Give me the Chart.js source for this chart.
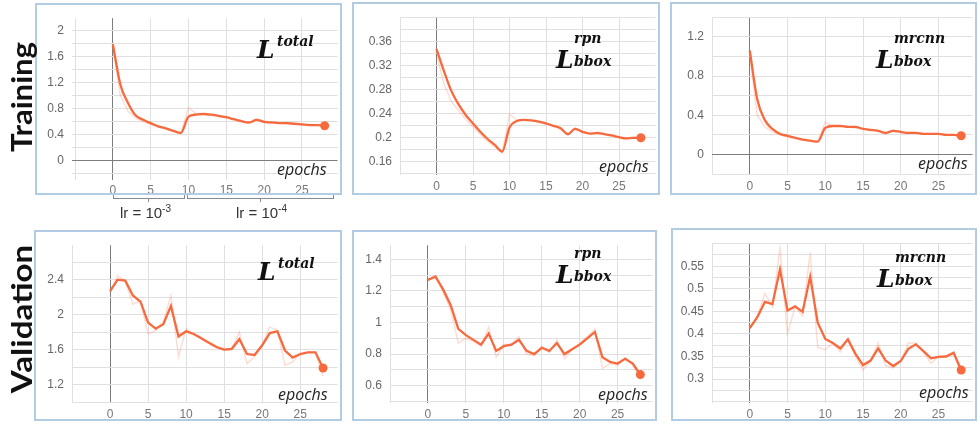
<!DOCTYPE html>
<html>
<head>
<meta charset="utf-8">
<script src="https://cdn.jsdelivr.net/npm/chart.js@4.4.1/dist/chart.umd.min.js"></script>
<style>
  body { margin: 0; width: 980px; height: 426px; position: relative; background: #fff; overflow: hidden; font-family: 'Liberation Sans', Arial, sans-serif; }
  canvas { position: absolute; }
  .box { position: absolute; border: 2px solid #b1cce3; box-sizing: border-box; pointer-events: none; }
  .row { position: absolute; font-family: Lato, 'Liberation Sans', sans-serif; font-weight: 700; font-size: 28px; color: #111; white-space: nowrap; line-height: 1; }
  .ep { position: absolute; font-family: 'Open Sans', sans-serif; font-style: italic; font-size: 16px; color: #222; line-height: 16px; }
  .m { position: absolute; font-family: 'DejaVu Serif', serif; font-weight: 700; font-style: italic; color: #111; line-height: 1; white-space: nowrap; }
  .mL { font-size: 25px; }
  .ms { font-size: 14px; }
  .br { position: absolute; border: 1px solid #8a8a8a; border-top: none; height: 3px; }
  .tk { position: absolute; width: 1px; height: 3px; background: #8a8a8a; }
  .lr { position: absolute; font-size: 15px; color: #333; white-space: nowrap; }
  .lr sup { font-size: 10px; }
</style>
</head>
<body>
<script>
// epochs on x
const epochs = [0,1,2,3,4,5,6,7,8,9,10,11,12,13,14,15,16,17,18,19,20,21,22,23,24,25,26,27,28];
const xTicks = [0, 5, 10, 15, 20, 25];

// training losses (smoothed + faint raw)
const trainTotal    = [1.79,1.17,0.89,0.70,0.63,0.58,0.53,0.50,0.46,0.43,0.68,0.71,0.72,0.71,0.69,0.67,0.64,0.61,0.59,0.63,0.60,0.59,0.58,0.58,0.57,0.56,0.55,0.55,0.54];
const trainTotalRaw = [1.75,1.00,0.76,0.66,0.60,0.56,0.52,0.49,0.45,0.42,0.82,0.72,0.72,0.70,0.68,0.66,0.63,0.60,0.57,0.64,0.59,0.58,0.58,0.57,0.57,0.56,0.55,0.55,0.54];
const trainRpn      = [0.347,0.311,0.278,0.255,0.237,0.223,0.209,0.197,0.187,0.176,0.216,0.227,0.229,0.228,0.226,0.223,0.219,0.215,0.205,0.214,0.209,0.206,0.207,0.205,0.203,0.200,0.198,0.199,0.199];
const trainRpnRaw   = [0.340,0.290,0.260,0.245,0.230,0.217,0.205,0.193,0.184,0.174,0.238,0.229,0.229,0.228,0.225,0.222,0.218,0.214,0.203,0.216,0.208,0.206,0.207,0.205,0.202,0.200,0.198,0.200,0.199];
const trainMrcnn    = [1.06,0.56,0.35,0.26,0.21,0.19,0.17,0.15,0.14,0.13,0.27,0.29,0.29,0.28,0.28,0.26,0.25,0.24,0.22,0.24,0.23,0.22,0.22,0.21,0.21,0.21,0.20,0.20,0.19];
const trainMrcnnRaw = [1.00,0.40,0.28,0.23,0.20,0.18,0.16,0.15,0.14,0.13,0.33,0.29,0.29,0.28,0.27,0.26,0.25,0.24,0.21,0.25,0.22,0.22,0.22,0.21,0.21,0.21,0.20,0.20,0.19];

// validation losses
const valTotal    = [2.27,2.40,2.39,2.22,2.15,1.91,1.84,1.89,2.10,1.75,1.81,1.78,1.73,1.68,1.63,1.60,1.61,1.72,1.55,1.54,1.65,1.79,1.81,1.59,1.51,1.55,1.57,1.57,1.39];
const valTotalRaw = [2.25,2.45,2.38,2.12,2.16,1.78,1.82,1.92,2.22,1.52,1.84,1.78,1.72,1.67,1.62,1.59,1.60,1.80,1.44,1.52,1.66,1.86,1.82,1.42,1.46,1.55,1.57,1.57,1.30];
const valRpn      = [1.27,1.29,1.21,1.11,0.96,0.92,0.89,0.86,0.93,0.82,0.85,0.86,0.89,0.82,0.80,0.84,0.82,0.87,0.80,0.83,0.86,0.90,0.94,0.78,0.75,0.74,0.77,0.74,0.67];
const valRpnRaw   = [1.27,1.30,1.19,1.08,0.87,0.90,0.88,0.85,0.97,0.78,0.86,0.86,0.91,0.80,0.79,0.85,0.81,0.89,0.77,0.83,0.87,0.91,0.96,0.71,0.74,0.73,0.78,0.73,0.64];
const valMrcnn    = [0.413,0.437,0.471,0.466,0.543,0.452,0.461,0.449,0.527,0.425,0.389,0.380,0.368,0.388,0.356,0.331,0.341,0.368,0.341,0.329,0.340,0.367,0.377,0.362,0.346,0.349,0.350,0.358,0.320];
const valMrcnnRaw = [0.410,0.440,0.490,0.460,0.590,0.400,0.460,0.440,0.580,0.370,0.365,0.380,0.360,0.390,0.350,0.320,0.340,0.380,0.330,0.325,0.340,0.380,0.380,0.360,0.335,0.350,0.350,0.360,0.310];

// y tick labels per panel
const tlLabels = [0, 0.4, 0.8, 1.2, 1.6, 2];
const tmLabels = [0.16, 0.2, 0.24, 0.28, 0.32, 0.36];
const trLabels = [0, 0.4, 0.8, 1.2];
const blLabels = [1.2, 1.6, 2, 2.4];
const bmLabels = [0.6, 0.8, 1, 1.2, 1.4];
const brLabels = [0.3, 0.35, 0.4, 0.45, 0.5, 0.55];

const lineColor = '#f86a3e';
const rawColor = 'rgba(248,106,62,0.22)';

const panels = [
  { box: [35, 3, 307, 192],  plot: [72, 5, 339, 180],    x: [-5.4, 29.7], y: [-0.29, 2.19],  grid: 0.2,   labels: tlLabels, data: trainTotal, raw: trainTotalRaw, smooth: true },
  { box: [352, 2, 308, 193], plot: [400, 4, 657, 175],   x: [-5, 30],     y: [0.137, 0.40],  grid: 0.02,  labels: tmLabels, data: trainRpn,   raw: trainRpnRaw,   smooth: true },
  { box: [670, 2, 307, 193], plot: [712, 4, 975, 175],   x: [-5, 29.5],   y: [-0.21, 1.40],  grid: 0.2,   labels: trLabels, data: trainMrcnn, raw: trainMrcnnRaw, smooth: true },
  { box: [34, 230, 308, 191],  plot: [72, 232, 339, 403],  x: [-5, 29.9],  y: [0.99, 2.795],  grid: 0.2,   labels: blLabels, data: valTotal, raw: valTotalRaw },
  { box: [352, 230, 305, 191], plot: [390, 232, 655, 403], x: [-5, 29.6],  y: [0.49, 1.49],   grid: 0.1,   labels: bmLabels, data: valRpn,   raw: valRpnRaw },
  { box: [671, 228, 306, 193], plot: [712, 230, 975, 403], x: [-5, 29.5],  y: [0.247, 0.601], grid: 0.025, labels: brLabels, data: valMrcnn, raw: valMrcnnRaw }
];

function near(a, b) { return Math.abs(a - b) < 1e-6; }
function fmt(v) { return String(parseFloat(v.toFixed(3))); }

function gridColor(c) {
  return c.tick && near(c.tick.value, 0) ? '#7c7c7c' : '#e0e0e0';
}

function makePanel(p) {
  const [bx, by, bw, bh] = p.box;
  const cv = document.createElement('canvas');
  cv.width = bw; cv.height = bh;
  cv.style.left = bx + 'px'; cv.style.top = by + 'px';
  document.body.appendChild(cv);
  const frame = document.createElement('div');
  frame.className = 'box';
  frame.style.cssText = `left:${bx}px;top:${by}px;width:${bw}px;height:${bh}px`;
  document.body.appendChild(frame);

  const padLeft = p.plot[0] - bx;
  const padTop = p.plot[1] - by;
  const padRight = bx + bw - p.plot[2];
  const padBottom = by + bh - p.plot[3];
  const last = epochs.length - 1;

  new Chart(cv.getContext('2d'), {
    type: 'line',
    data: {
      datasets: [
        {
          data: epochs.map((e, i) => ({ x: e, y: p.raw[i] })),
          borderColor: rawColor, borderWidth: 1.5, pointRadius: 0, tension: 0
        },
        {
          data: epochs.map((e, i) => ({ x: e, y: p.data[i] })),
          borderColor: lineColor, borderWidth: 2.3,
          cubicInterpolationMode: p.smooth ? 'monotone' : 'default', tension: 0,
          pointRadius: c => c.dataIndex === last ? 4.5 : 0,
          pointBackgroundColor: lineColor, pointBorderWidth: 0
        }
      ]
    },
    options: {
      responsive: false,
      animation: false,
      events: [],
      layout: { padding: { left: 0, top: padTop, right: padRight, bottom: 0 } },
      plugins: { legend: { display: false }, tooltip: { enabled: false } },
      scales: {
        x: {
          type: 'linear', min: p.x[0], max: p.x[1],
          afterBuildTicks: s => { s.ticks = [-5].concat(xTicks).map(v => ({ value: v })); },
          afterFit: s => { s.height = padBottom; },
          border: { display: false },
          grid: { color: gridColor, drawTicks: false },
          ticks: {
            autoSkip: false, maxRotation: 0, padding: 4, color: '#777',
            font: { family: 'Liberation Sans', size: 12 },
            callback: v => xTicks.includes(v) ? String(v) : ''
          }
        },
        y: {
          type: 'linear', min: p.y[0], max: p.y[1],
          afterBuildTicks: s => {
            const out = [];
            for (let k = Math.ceil(s.min / p.grid - 1e-9); k * p.grid <= s.max + 1e-9; k++) {
              out.push({ value: parseFloat((k * p.grid).toFixed(4)) });
            }
            s.ticks = out;
          },
          afterFit: s => { s.width = padLeft; },
          border: { display: false },
          grid: { color: gridColor, drawTicks: false },
          ticks: {
            autoSkip: false, padding: 8, color: '#666',
            font: { family: 'Liberation Sans', size: 12 },
            callback: v => p.labels.some(l => near(l, v)) ? fmt(v) : ''
          }
        }
      }
    }
  });
}

panels.forEach(makePanel);
</script>

<!-- row titles -->
<div class="row" id="rowTrain" data-w="110" style="left:20px;top:97px">Training</div>
<div class="row" id="rowVal" data-w="148" style="left:20px;top:319px">Validation</div>

<!-- epochs labels -->
<div class="ep" style="left:277px;top:161px">epochs</div>
<div class="ep" style="left:599px;top:158px">epochs</div>
<div class="ep" style="left:918px;top:155px">epochs</div>
<div class="ep" style="left:278px;top:386px">epochs</div>
<div class="ep" style="left:598px;top:386px">epochs</div>
<div class="ep" style="left:919px;top:384px">epochs</div>

<!-- loss names -->
<div class="m mL" style="left:257px;top:37px">L</div>
<div class="m ms" style="left:277px;top:34px">total</div>
<div class="m mL" style="left:556px;top:47px">L</div>
<div class="m ms" style="left:574px;top:31px">rpn</div>
<div class="m ms" style="left:574px;top:54px">bbox</div>
<div class="m mL" style="left:876px;top:47px">L</div>
<div class="m ms" style="left:894px;top:31px">mrcnn</div>
<div class="m ms" style="left:894px;top:54px">bbox</div>
<div class="m mL" style="left:258px;top:259px">L</div>
<div class="m ms" style="left:278px;top:256px">total</div>
<div class="m mL" style="left:556px;top:262px">L</div>
<div class="m ms" style="left:574px;top:246px">rpn</div>
<div class="m ms" style="left:574px;top:269px">bbox</div>
<div class="m mL" style="left:877px;top:266px">L</div>
<div class="m ms" style="left:895px;top:250px">mrcnn</div>
<div class="m ms" style="left:895px;top:273px">bbox</div>

<!-- learning rate brackets -->
<div class="br" style="left:113px;top:195px;width:70px"></div>
<div class="tk" style="left:148px;top:199px"></div>
<div class="br" style="left:187px;top:195px;width:145px"></div>
<div class="tk" style="left:260px;top:199px"></div>
<div class="lr" id="lr1" style="left:120px;top:203px">lr = 10<sup>-3</sup></div>
<div class="lr" id="lr2" style="left:236px;top:203px">lr = 10<sup>-4</sup></div>

<script>
// fit rotated row titles to the reference length
document.querySelectorAll('.row').forEach(el => {
  const w = el.offsetWidth, h = el.offsetHeight;
  const target = +el.dataset.w;
  const cx = parseFloat(el.style.left), cy = parseFloat(el.style.top);
  el.style.left = (cx - w / 2) + 'px';
  el.style.top = (cy - h / 2) + 'px';
  el.style.transform = `rotate(-90deg) scaleX(${target / w})`;
});
</script>
</body>
</html>
